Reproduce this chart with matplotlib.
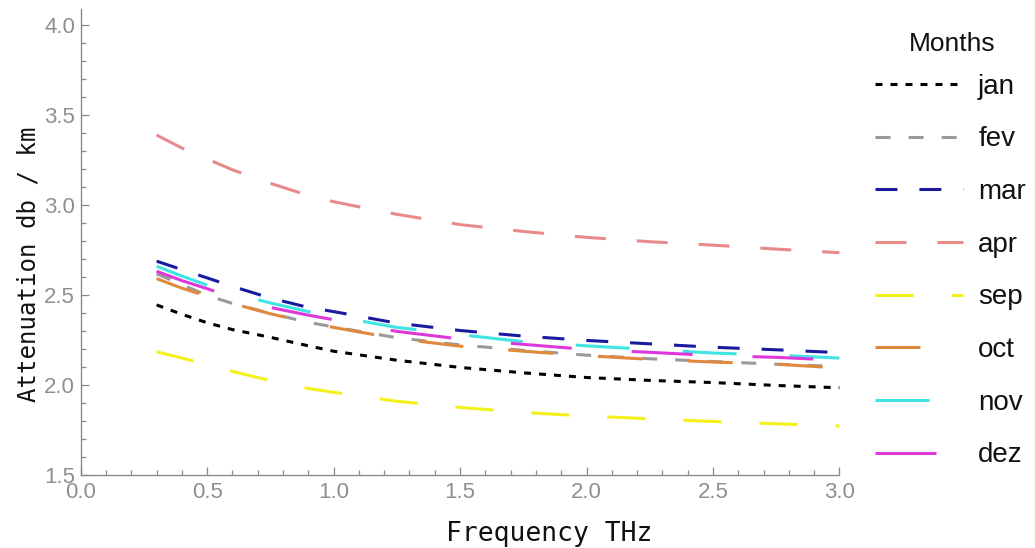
import matplotlib
matplotlib.use("Agg")
import matplotlib.pyplot as plt
from matplotlib.ticker import MultipleLocator

plt.rcParams['lines.scale_dashes'] = False

freq = [0.3, 0.4, 0.5, 0.6, 0.75, 0.9, 1.0, 1.25, 1.5, 1.75, 2.0, 2.25, 2.5, 2.75, 3.0]

jan = [2.447, 2.395, 2.348, 2.310, 2.267, 2.220, 2.190, 2.140, 2.100, 2.070, 2.044, 2.028, 2.016, 2.000, 1.987]
fev = [2.620, 2.560, 2.500, 2.455, 2.400, 2.350, 2.325, 2.265, 2.225, 2.195, 2.168, 2.148, 2.133, 2.118, 2.105]
mar = [2.690, 2.643, 2.597, 2.550, 2.485, 2.433, 2.410, 2.346, 2.305, 2.274, 2.250, 2.231, 2.212, 2.198, 2.182]
apr = [3.390, 3.318, 3.257, 3.197, 3.122, 3.055, 3.020, 2.950, 2.893, 2.855, 2.822, 2.798, 2.779, 2.757, 2.737]
sep = [2.187, 2.152, 2.116, 2.078, 2.027, 1.983, 1.962, 1.912, 1.878, 1.850, 1.830, 1.815, 1.800, 1.787, 1.775]
octo = [2.593, 2.540, 2.495, 2.455, 2.398, 2.350, 2.322, 2.260, 2.218, 2.190, 2.165, 2.145, 2.130, 2.118, 2.097]
nov = [2.662, 2.607, 2.557, 2.513, 2.458, 2.410, 2.385, 2.322, 2.282, 2.243, 2.220, 2.200, 2.180, 2.168, 2.152]
dez = [2.634, 2.582, 2.537, 2.490, 2.433, 2.390, 2.365, 2.300, 2.258, 2.228, 2.200, 2.184, 2.166, 2.156, 2.140]

labels = ["jan", "fev", "mar", "apr", "sep", "oct", "nov", "dez"]
series = [jan, fev, mar, apr, sep, octo, nov, dez]
colors = ["#000000", "#9a9a9a", "#1a1aa0", "#e88a8a", "#f4f01a", "#e0883c", "#40e4e4", "#dc38dc"]
dashes = [(5.0, 5.8), (10.8, 13.0), (15.8, 15.8), (22.3, 22.3), (27.4, 27.4),
          (32.4, 32.4), (38.9, 38.2), (43.9, 43.2)]

fig = plt.figure(figsize=(10.35, 5.48), dpi=100)
ax = fig.add_axes([0.078, 0.1323, 0.733, 0.8513])

for vals, lab, col, ds in zip(series, labels, colors, dashes):
    ax.plot(freq, vals, color=col, lw=2.2, dashes=ds, dash_capstyle='butt',
            label=lab, clip_on=False)

ax.set_xlim(0, 3.0)
ax.set_ylim(1.5, 4.09)
ax.xaxis.set_major_locator(MultipleLocator(0.5))
ax.xaxis.set_minor_locator(MultipleLocator(0.1))
ax.yaxis.set_major_locator(MultipleLocator(0.5))
ax.yaxis.set_minor_locator(MultipleLocator(0.1))
ax.xaxis.set_major_formatter(plt.FuncFormatter(lambda v, p: f"{v:.1f}"))
ax.yaxis.set_major_formatter(plt.FuncFormatter(lambda v, p: f"{v:.1f}"))

for s in ["top", "right"]:
    ax.spines[s].set_visible(False)
for s in ["left", "bottom"]:
    ax.spines[s].set_color("#8a8a8a")
    ax.spines[s].set_linewidth(1.0)

ax.tick_params(which="both", direction="in", color="#8a8a8a", width=0.9)
ax.tick_params(which="major", length=6)
ax.tick_params(which="minor", length=3.5)
ax.tick_params(axis="x", which="major", pad=5, labelsize=16, labelcolor="#8f8f8f")
ax.tick_params(axis="y", which="major", pad=4, labelsize=16, labelcolor="#8f8f8f")
for t in ax.get_xticklabels() + ax.get_yticklabels():
    t.set_fontfamily("Liberation Sans")

ax.set_xlabel("Frequency THz", family="DejaVu Sans Mono", fontsize=19, color="#111111")
ax.xaxis.set_label_coords(0.618, -0.098)
ax.set_ylabel("Attenuation db / km", family="DejaVu Sans Mono", fontsize=17.3, color="#111111")
ax.yaxis.set_label_coords(-0.053, 0.452)

fig.text(952 / 1035, 1 - 44 / 548, "Months", family="Liberation Sans", fontsize=19,
         ha="center", va="center", color="#111111")
leg = fig.legend(loc="upper left", bbox_to_anchor=(0.8348, 0.886), frameon=False,
                 prop={"family": "Liberation Sans", "size": 20},
                 handlelength=3.17, handletextpad=0.54, labelspacing=0.96,
                 borderaxespad=0)
for t in leg.get_texts():
    t.set_color("#111111")

fig.savefig("out.png", dpi=100)
